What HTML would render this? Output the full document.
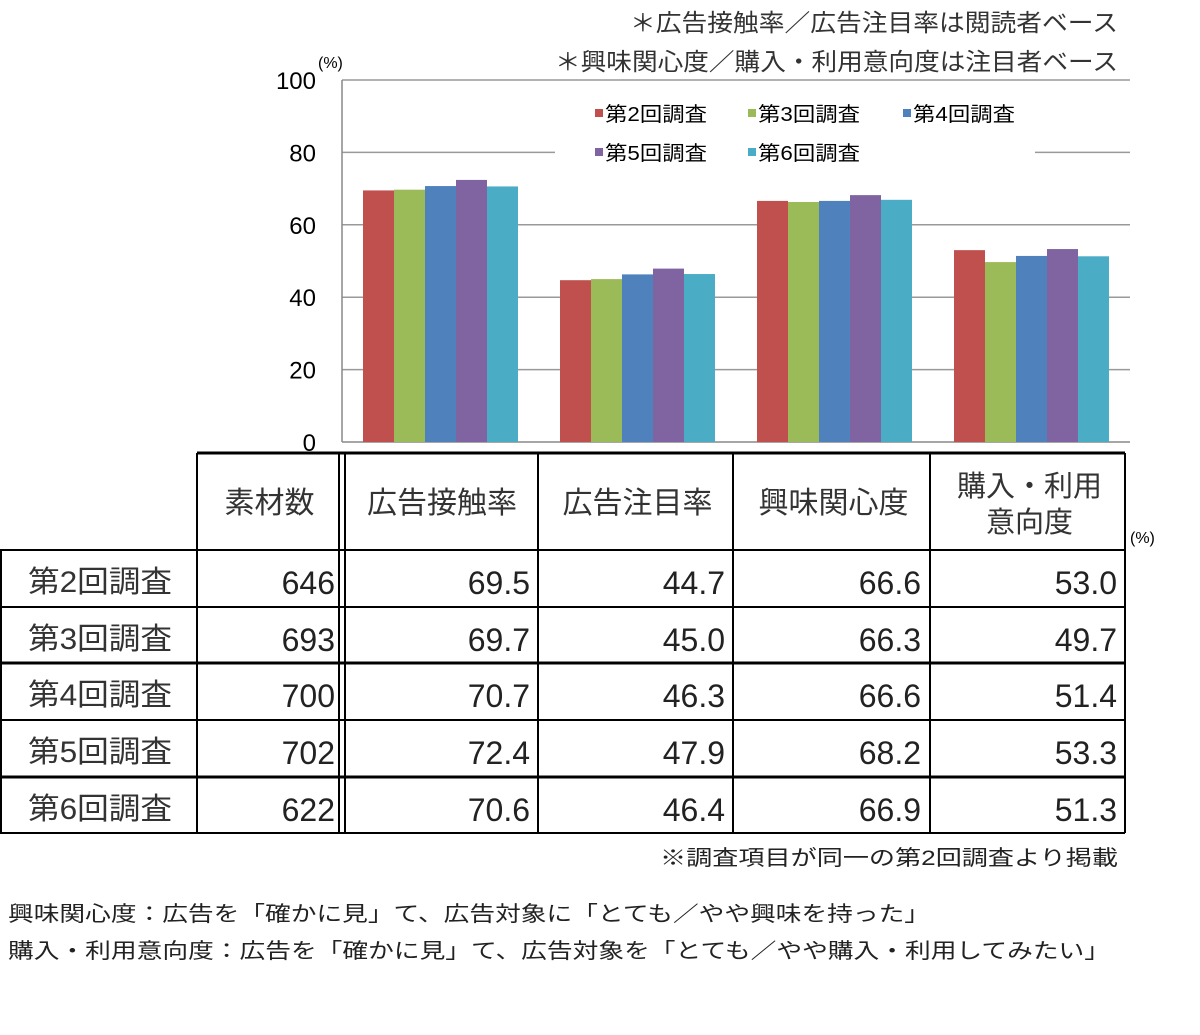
<!DOCTYPE html>
<html><head><meta charset="utf-8"><style>
body{margin:0;background:#fff;}
svg{display:block;font-family:"Liberation Sans","Noto Sans CJK JP",sans-serif;}
</style></head><body>
<svg id="chart" width="1200" height="1035" viewBox="0 0 1200 1035" xmlns="http://www.w3.org/2000/svg">
<text x="630" y="31" textLength="488" lengthAdjust="spacingAndGlyphs" font-size="24" fill="#333">＊広告接触率／広告注目率は閲読者ベース</text>
<text x="555" y="70" textLength="563" lengthAdjust="spacingAndGlyphs" font-size="24" fill="#333">＊興味関心度／購入・利用意向度は注目者ベース</text>
<text x="318" y="68" font-size="16" fill="#000">(%)</text>
<g id="grid"></g>
<g id="bars"></g>
<g id="legend"></g>
<g id="table"></g>
<text x="660" y="865" textLength="458" lengthAdjust="spacingAndGlyphs" font-size="21" fill="#222">※調査項目が同一の第2回調査より掲載</text>
<text x="8" y="921" textLength="922" lengthAdjust="spacingAndGlyphs" font-size="21" fill="#222">興味関心度：広告を「確かに見」て、広告対象に「とても／やや興味を持った」</text>
<text x="8" y="958" textLength="1102" lengthAdjust="spacingAndGlyphs" font-size="21" fill="#222">購入・利用意向度：広告を「確かに見」て、広告対象を「とても／やや購入・利用してみたい」</text>
</svg>
<script>
const categories=["広告接触率","広告注目率","興味関心度","購入・利用意向度"];
const seriesNames=["第2回調査","第3回調査","第4回調査","第5回調査","第6回調査"];
const s2=[69.5,44.7,66.6,53.0];
const s3=[69.7,45.0,66.3,49.7];
const s4=[70.7,46.3,66.6,51.4];
const s5=[72.4,47.9,68.2,53.3];
const s6=[70.6,46.4,66.9,51.3];
const sampleCounts=[646,693,700,702,622];
const yTicks=[0,20,40,60,80,100];
const colors=["#C0504D","#9BBB59","#4F81BD","#8064A2","#4BACC6"];
const NS="http://www.w3.org/2000/svg";
function mk(tag,attrs,parent,text){const e=document.createElementNS(NS,tag);for(const k in attrs)e.setAttribute(k,attrs[k]);if(text!==undefined)e.textContent=text;parent.appendChild(e);return e;}
const x0=342,x1=1130,yb=442,yt=80;
const y=v=>yb-(v/100)*(yb-yt);
const gw=(x1-x0)/categories.length, bw=31;
const grid=document.getElementById('grid');
yTicks.forEach(t=>{
 const l=mk('line',{x1:x0,x2:x1,y1:y(t),y2:y(t),stroke:t===0?'#888':'#999','stroke-width':1.5},grid);
 
 
 const tx=mk('text',{x:316,y:y(t)+9,'text-anchor':'end','font-size':24,fill:'#000'},grid,String(t));
 
 
});
const ax=mk('line',{x1:x0,x2:x0,y1:yt,y2:yb,stroke:'#888','stroke-width':1.5},grid);


const series=[s2,s3,s4,s5,s6];
const bars=document.getElementById('bars');
categories.forEach((c,ci)=>{
 const cx=x0+gw*ci+gw/2, start=cx-bw*series.length/2;
 series.forEach((s,si)=>{
  const r=mk('rect',{x:start+si*bw,y:y(s[ci]),width:bw,height:yb-y(s[ci]),fill:colors[si]},bars);
  
  
 });
});
const lg=document.getElementById('legend');
mk('rect',{x:555,y:96,width:480,height:72,fill:'#fff'},lg);
const lpos=[[595,114],[748,114],[903,114],[595,153],[748,153]];
seriesNames.forEach((n,i)=>{
 const [lx,ly]=lpos[i];
 const sw=mk('rect',{x:lx,y:ly-5,width:8,height:8,fill:colors[i]},lg);
 
 
 const t=mk('text',{x:lx+10,y:ly+7,'font-size':20,fill:'#000',textLength:102,lengthAdjust:'spacingAndGlyphs'},lg,n);
 
 
});
const tb=document.getElementById('table');
const colX=[0,197,342,538,733,930,1125];
const rowY=[453,550,607,663,720,777,833];
const headers=["素材数"].concat(categories);
function ln(a,b,c,d,w){mk('line',{x1:a,y1:b,x2:c,y2:d,stroke:'#000','stroke-width':w},tb);}
ln(197,453,1125,453,3);
ln(0,550,1125,550,2);
[607,720].forEach(v=>ln(0,v,1125,v,2));
[663,777].forEach(v=>ln(0,v,1125,v,3));
ln(0,833,1125,833,2);
ln(1,550,1,833,2);
[197,538,733,930,1125].forEach(v=>ln(v,453,v,833,2));
ln(339,453,339,833,2);ln(345,453,345,833,2);
headers.forEach((h,i)=>{
 const cx=(colX[i+1]+colX[i+2])/2+(i===0?0:2);
 if(h==="購入・利用意向度"){
  const a=mk('text',{x:cx,y:496,'text-anchor':'middle','font-size':29,fill:'#333'},tb,"購入・利用");
  
  
  mk('text',{x:cx,y:532,'text-anchor':'middle','font-size':29,fill:'#333'},tb,"意向度");
 } else {
  const t=mk('text',{x:cx,y:513,'text-anchor':'middle','font-size':30,fill:'#333'},tb,h);
  
  
 }
});
mk('text',{x:1130,y:543,'font-size':16,fill:'#000'},tb,"(%)");
seriesNames.forEach((n,ri)=>{
 const by=rowY[ri+1]+44;
 const lab=mk('text',{x:28,y:by-2,'font-size':30,fill:'#333',textLength:144,lengthAdjust:'spacingAndGlyphs'},tb,n);
 
 
 const vals=[String(sampleCounts[ri])].concat(series[ri].map(v=>v.toFixed(1)));
 const rights=[335,530,725,921,1117];
 vals.forEach((v,ci)=>{
  const t=mk('text',{x:rights[ci],y:by,'text-anchor':'end','font-size':32,fill:'#222'},tb,v);
  
  
 });
});
</script>
</body></html>
